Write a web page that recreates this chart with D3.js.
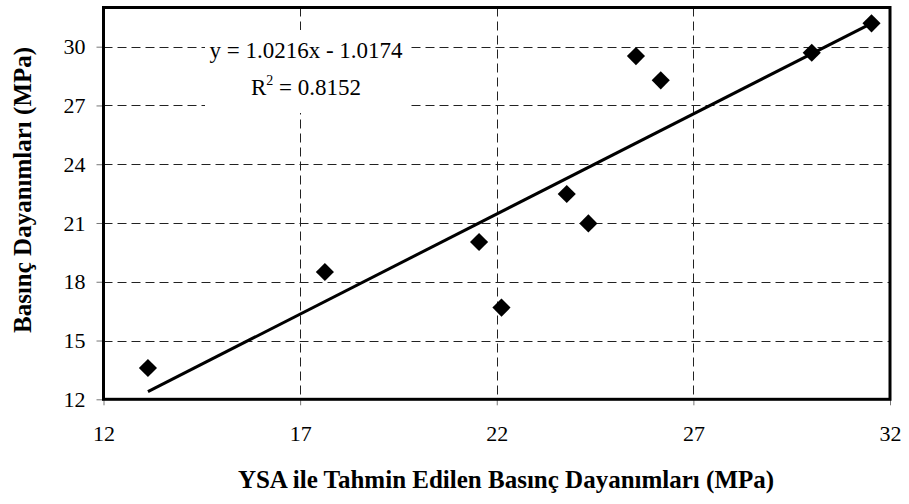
<!DOCTYPE html>
<html>
<head>
<meta charset="utf-8">
<script src="https://cdn.jsdelivr.net/npm/d3@7/dist/d3.min.js"></script>
<style>
  html, body { margin: 0; padding: 0; background: #fff; }
  svg, svg text { font-family: "Liberation Serif", "Times New Roman", serif; }
</style>
</head>
<body>
<div id="chart"></div>
<script>
// Data
const predicted = [13.13, 17.63, 21.55, 22.12, 23.78, 24.33, 25.54, 26.17, 30.01, 31.53]; // YSA (x)
const measured  = [13.6, 18.5, 20.03, 16.68, 22.48, 20.98, 29.52, 28.28, 29.69, 31.19];  // y
const xTicks = [12, 17, 22, 27, 32];
const yTicks = [12, 15, 18, 21, 24, 27, 30];
const slope = 1.0216;
const intercept = -1.0174;
const r2 = 0.8152;

const width = 909, height = 504;
const plot = { left: 103.5, right: 890, top: 7.5, bottom: 399.3 };
const serif = '"Liberation Serif", "Times New Roman", serif';

const svg = d3.select('#chart').append('svg')
  .attr('width', width)
  .attr('height', height);

svg.append('rect').attr('width', width).attr('height', height).attr('fill', '#fff');

const x = d3.scaleLinear().domain([12, 32]).range([plot.left, plot.right]);
const y = d3.scaleLinear().domain([12, 32]).range([plot.bottom, plot.top]);

// Gridlines (dashed)
const grid = svg.append('g').attr('class', 'grid')
  .attr('stroke', '#222').attr('stroke-width', 1).attr('stroke-dasharray', '9,5');
grid.selectAll('line.h').data(yTicks.filter(d => d > 12))
  .enter().append('line').attr('class', 'h')
  .attr('x1', plot.left).attr('x2', plot.right)
  .attr('y1', d => Math.round(y(d)) + 0.5).attr('y2', d => Math.round(y(d)) + 0.5);
grid.selectAll('line.v').data(xTicks.filter(d => d > 12 && d < 32))
  .enter().append('line').attr('class', 'v')
  .attr('y1', plot.top).attr('y2', plot.bottom)
  .attr('x1', d => Math.round(x(d)) + 0.5).attr('x2', d => Math.round(x(d)) + 0.5);

// Axes
const xAxis = svg.append('g')
  .attr('transform', `translate(0,${plot.bottom})`)
  .call(d3.axisBottom(x).tickValues(xTicks).tickSize(6).tickPadding(20).tickFormat(d3.format('d')));
const yAxis = svg.append('g')
  .attr('transform', `translate(${plot.left},0)`)
  .call(d3.axisLeft(y).tickValues(yTicks).tickSize(7).tickPadding(11).tickFormat(d3.format('d')));

[xAxis, yAxis].forEach(g => {
  g.attr('font-family', serif).attr('font-size', 22);
  g.select('.domain').remove();
  g.selectAll('.tick line').attr('stroke', '#777');
  g.selectAll('.tick text').attr('fill', '#000');
});

// Plot border
svg.append('rect')
  .attr('x', plot.left).attr('y', plot.top)
  .attr('width', plot.right - plot.left).attr('height', plot.bottom - plot.top)
  .attr('fill', 'none').attr('stroke', '#000').attr('stroke-width', 3);

// Equation label box
const eq = svg.append('g').attr('class', 'equation').attr('font-family', serif);
eq.append('rect').attr('x', 205).attr('y', 30).attr('width', 205).attr('height', 83).attr('fill', '#fff');
eq.append('text')
  .attr('x', 306).attr('y', 58).attr('text-anchor', 'middle')
  .attr('font-size', 23)
  .text(`y = ${slope}x - ${Math.abs(intercept)}`);
const r2Text = eq.append('text')
  .attr('x', 306).attr('y', 95).attr('text-anchor', 'middle')
  .attr('font-size', 23);
r2Text.append('tspan').text('R');
r2Text.append('tspan').attr('dy', -10).attr('font-size', 14).text('2');
r2Text.append('tspan').attr('dy', 10).text(` = ${r2}`);

// Trend line over the data range
const xExtent = d3.extent(predicted);
svg.append('line')
  .attr('x1', x(xExtent[0])).attr('y1', y(slope * xExtent[0] + intercept))
  .attr('x2', x(xExtent[1])).attr('y2', y(slope * xExtent[1] + intercept))
  .attr('stroke', '#000').attr('stroke-width', 3);

// Diamond markers
const diamond = d3.symbol().type(d3.symbolDiamond2).size(210);
svg.append('g').selectAll('path')
  .data(predicted.map((v, i) => [v, measured[i]]))
  .enter().append('path')
  .attr('d', diamond)
  .attr('transform', d => `translate(${x(d[0])},${y(d[1])})`)
  .attr('fill', '#000');

// Axis titles
svg.append('text')
  .attr('x', 506).attr('y', 488).attr('text-anchor', 'middle')
  .attr('font-family', serif).attr('font-size', 25).attr('font-weight', 'bold')
  .text('YSA ile Tahmin Edilen Basınç Dayanımları (MPa)');
svg.append('text')
  .attr('transform', 'translate(31,333) rotate(-90)')
  .attr('text-anchor', 'start')
  .attr('font-family', serif).attr('font-size', 25).attr('font-weight', 'bold')
  .text('Basınç Dayanımları (MPa)');
</script>
</body>
</html>
